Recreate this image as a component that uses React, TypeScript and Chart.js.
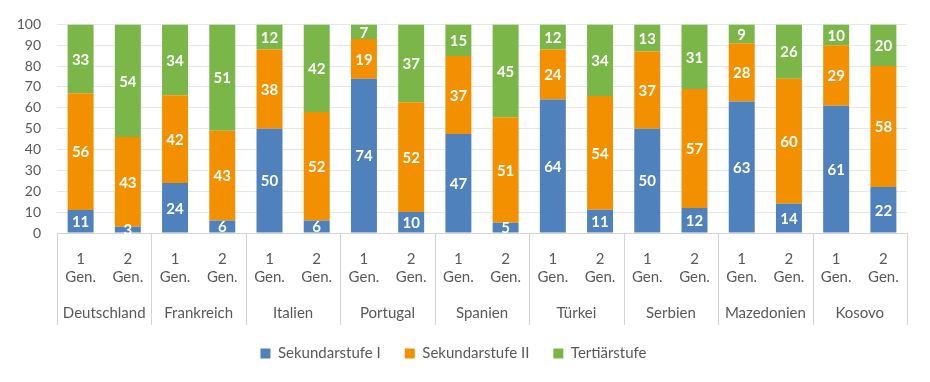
import React, { useEffect, useRef } from "react";
import { Chart, registerables } from "chart.js";

Chart.register(...registerables);

const countries = ["Deutschland", "Frankreich", "Italien", "Portugal", "Spanien", "Türkei", "Serbien", "Mazedonien", "Kosovo"];
const generationLabels = [["1", "Gen."], ["2", "Gen."]];
const seriesNames = ["Sekundarstufe I", "Sekundarstufe II", "Tertiärstufe"];
const sek1 = [11, 3, 24, 6, 50, 6, 74, 10, 47, 5, 64, 11, 50, 12, 63, 14, 61, 22];
const sek2 = [56, 43, 42, 43, 38, 52, 19, 52, 37, 51, 24, 54, 37, 57, 28, 60, 29, 58];
const tert = [33, 54, 34, 51, 12, 42, 7, 37, 15, 45, 12, 34, 13, 31, 9, 26, 10, 20];
const yTicks = { min: 0, max: 100, step: 10 };

const FONT = "Lato, 'Open Sans', sans-serif";
const TEXT = "#595959";
const colors = ["#4F81BD", "#F39000", "#7AB648"];

const labels: string[][] = [];
countries.forEach(() => generationLabels.forEach((g) => labels.push(g)));

const rawSeries = [sek1, sek2, tert];
const totals = sek1.map((_, i) => sek1[i] + sek2[i] + tert[i]);
// 100% stacked: each column is scaled to its total
const percentSeries = rawSeries.map((s) => s.map((v, i) => (v / totals[i]) * 100));

const groupPlugin = {
  id: "groups",
  afterDraw(chart: any) {
    const ctx = chart.ctx;
    const x = chart.scales.x;
    const area = chart.chartArea;
    const n = labels.length;
    const pix = (i: number) => x.getPixelForTick(i);
    const bounds: number[] = [];
    for (let k = 0; k <= countries.length; k++) {
      const i = k * 2;
      if (i === 0) bounds.push(x.left);
      else if (i >= n) bounds.push(x.right);
      else bounds.push((pix(i - 1) + pix(i)) / 2);
    }
    ctx.save();
    ctx.strokeStyle = "#D4D4D4";
    ctx.lineWidth = 1;
    bounds.forEach((b) => {
      const xx = Math.round(b) + 0.5;
      ctx.beginPath();
      ctx.moveTo(xx, area.bottom);
      ctx.lineTo(xx, 325);
      ctx.stroke();
    });
    ctx.fillStyle = TEXT;
    ctx.font = `15px ${FONT}`;
    ctx.textAlign = "center";
    ctx.textBaseline = "middle";
    countries.forEach((c, k) => {
      const cx = (pix(2 * k) + pix(2 * k + 1)) / 2;
      ctx.fillText(c, cx, 313);
    });
    ctx.restore();
  },
};

const valueLabelPlugin = {
  id: "valueLabels",
  afterDatasetsDraw(chart: any) {
    const ctx = chart.ctx;
    ctx.save();
    ctx.fillStyle = "#FFFFFF";
    ctx.font = `bold 15px ${FONT}`;
    ctx.textAlign = "center";
    ctx.textBaseline = "middle";
    chart.data.datasets.forEach((_ds: any, di: number) => {
      const meta = chart.getDatasetMeta(di);
      meta.data.forEach((el: any, i: number) => {
        const v = rawSeries[di][i];
        const top = Math.max(el.y, chart.chartArea.top);
        const cy = (top + el.base) / 2;
        ctx.fillText(String(v), el.x, cy + 1);
      });
    });
    ctx.restore();
  },
};

export default function App() {
  const ref = useRef<HTMLCanvasElement>(null);
  useEffect(() => {
    if (!ref.current) return;
    const chart = new Chart(ref.current, {
      type: "bar",
      data: {
        labels,
        datasets: percentSeries.map((d, i) => ({
          label: seriesNames[i],
          data: d,
          backgroundColor: colors[i],
          borderWidth: 0,
          barPercentage: 0.55,
          categoryPercentage: 1,
        })),
      },
      options: {
        animation: false,
        responsive: false,
        maintainAspectRatio: false,
        layout: { padding: { top: 11.6, right: 23, left: 0, bottom: 11 } },
        scales: {
          x: {
            stacked: true,
            grid: { display: false, drawTicks: false },
            border: { display: true, color: "#D4D4D4" },
            ticks: {
              color: TEXT,
              font: { family: FONT, size: 15, lineHeight: 1.2 },
              padding: 17,
              maxRotation: 0,
              autoSkip: false,
            },
            afterFit: (s: any) => {
              s.height = 89;
            },
          },
          y: {
            stacked: true,
            min: yTicks.min,
            max: yTicks.max,
            ticks: {
              stepSize: yTicks.step,
              autoSkip: false,
              color: TEXT,
              font: { family: FONT, size: 14 },
              padding: 16,
            },
            grid: { color: "#E6E6E6", drawTicks: false },
            border: { display: false },
            afterFit: (s: any) => {
              s.width = 57;
            },
          },
        },
        plugins: {
          legend: {
            position: "bottom",
            labels: {
              boxWidth: 10,
              boxHeight: 10,
              padding: 24,
              color: TEXT,
              font: { family: FONT, size: 15 },
            },
          },
          tooltip: { enabled: false },
        },
      },
      plugins: [groupPlugin, valueLabelPlugin],
    });
    return () => chart.destroy();
  }, []);
  return (
    <div style={{ position: "fixed", left: 0, top: 0, width: 930, height: 382, background: "#fff" }}>
      <canvas ref={ref} width={930} height={382} style={{ width: 930, height: 382 }} />
    </div>
  );
}
